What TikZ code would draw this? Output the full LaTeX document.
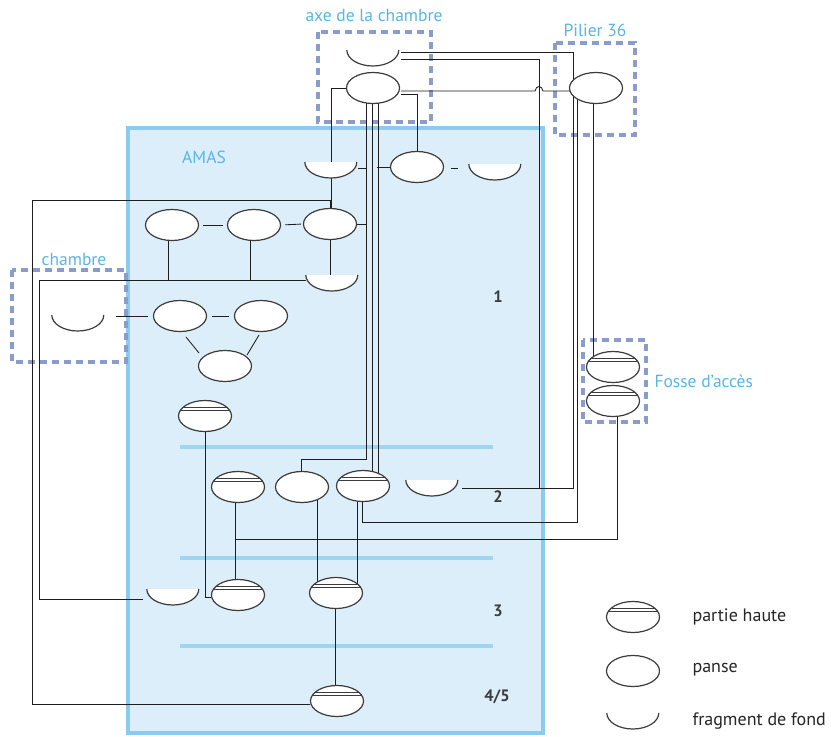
\documentclass[tikz,border=0pt]{standalone}
\usepackage{fontspec}
\setmainfont{PT Sans}
\usetikzlibrary{calc,shapes.geometric}
\pgfdeclarelayer{back}
\pgfdeclarelayer{wires}
\pgfsetlayers{back,wires,main}
\definecolor{amasfill}{RGB}{220,238,249}
\definecolor{amasline}{RGB}{140,203,238}
\definecolor{sepline}{RGB}{160,213,242}
\definecolor{labblue}{RGB}{88,182,228}
\definecolor{dashbox}{RGB}{138,156,203}
\definecolor{outl}{RGB}{60,60,60}
\definecolor{wire}{RGB}{30,30,30}
\definecolor{numgrey}{RGB}{60,60,60}
\begin{document}
\begin{tikzpicture}[x=1pt,y=-1pt,
  panse/.style={ellipse, draw=outl, line width=1.2pt, fill=white, minimum width=53pt, minimum height=31pt, inner sep=0pt},
  haute/.style={panse, path picture={
     \draw[outl, line width=0.9pt] ([yshift=8.5pt]path picture bounding box.west) -- ([yshift=8.5pt]path picture bounding box.east);
     \draw[outl, line width=0.9pt] ([yshift=5.3pt]path picture bounding box.west) -- ([yshift=5.3pt]path picture bounding box.east);}},
  fond/.style={rectangle, minimum width=52pt, minimum height=16pt, inner sep=0pt, anchor=north},
  wirel/.style={draw=wire, line width=0.85pt},
  dbox/.style={draw=dashbox, line width=3.5pt, dash pattern=on 7pt off 5pt},
  blab/.style={text=labblue, font=\fontsize{17.5}{20}\selectfont},
  lab/.style={text=black!85, font=\fontsize{18}{21}\selectfont, anchor=west},
  num/.style={text=numgrey, font=\bfseries\fontsize{16.5}{19}\selectfont}
]
\useasboundingbox (0,0) rectangle (831,737);

\begin{pgfonlayer}{back}
  \fill[white] (0,0) rectangle (831,737);
  \path[draw=amasline, fill=amasfill, line width=4pt] (128,128) rectangle (543,733);
  \foreach \yy in {447,558,646}
    \draw[sepline, line width=4pt] (180,\yy) -- (493,\yy);
  \draw[dbox] (318,32) rectangle (431,122);
  \draw[dbox] (555,43) rectangle (635,135);
  \draw[dbox] (12,270) rectangle (126,362);
  \draw[dbox] (583,340) rectangle (646,422);
\end{pgfonlayer}

% labels
\node[blab] (laxe) at (374,15) {axe de la chambre};
\node[blab] (lpil) at (595,30) {Pilier 36};
\node[blab] (lamas) at (204,157) {AMAS};
\node[blab] (lch) at (74,259) {chambre};
\node[blab, anchor=west] (lfos) at (651,381) {Fosse d'accès};
\node[num] (n1) at (498,297) {1};
\node[num] (n2) at (498,497) {2};
\node[num] (n3) at (498,611) {3};
\node[num] (n45) at (497,697) {4/5};

% nodes
\node[fond] (Faxe) at (373,50) {};
\node[panse] (Paxe) at (373,88) {};
\node[panse] (Ppil) at (596,88) {};
\node[fond] (Fa) at (331,162) {};
\node[panse] (Pb) at (417,167) {};
\node[fond] (Fc) at (495,164) {};
\node[panse] (P1a) at (172,225) {};
\node[panse] (P1b) at (254,225) {};
\node[panse] (P1c) at (330,224) {};
\node[fond] (F1) at (332,275) {};
\node[fond] (Fch) at (78,315) {};
\node[panse] (Pch1) at (180,316) {};
\node[panse] (Pch2) at (261,316) {};
\node[panse] (Pch3) at (225,366) {};
\node[haute] (PH1) at (205,416) {};
\node[haute] (PH2a) at (238,487) {};
\node[panse] (P2) at (302,487) {};
\node[haute] (PH2b) at (363,486) {};
\node[fond] (F2) at (432,480) {};
\node[haute] (FA1) at (613,367) {};
\node[haute] (FA2) at (613,401) {};
\node[fond] (F3) at (173,589) {};
\node[haute] (PH3a) at (238,595) {};
\node[haute] (PH3b) at (336,593) {};
\node[haute] (PH45) at (337,701) {};

% legend
\node[haute] (Lph) at (633,617) {};
\node[panse] (Lpa) at (633,671) {};
\node[fond] (Lfond) at (633,713) {};
\node[lab] (tph) at (689,617) {partie haute};
\node[lab] (tpa) at (689,670) {panse};
\node[lab] (tfo) at (689,721) {fragment de fond};

\foreach \f in {Faxe,Fa,Fc,F1,Fch,F2,F3,Lfond}
  \path[draw=outl, line width=1.2pt, fill=white] (\f.north west) arc[start angle=180, end angle=360, x radius=26pt, y radius=16pt];

% junction points on connectors
\coordinate (j539) at (539,488);
\coordinate (j366) at (366,168);
\coordinate (j235) at (235,539);

\begin{pgfonlayer}{wires}
  % from the chamber axis
  \draw[wirel] ($(Faxe.north east)+(2,2)$) -| ($(Ppil)+(-23,0)$);
  \draw[wirel] ($(Faxe.north east)+(2,9)$) -| (j539);
  \draw[wirel] (Paxe.west) -| (Fa.north);
  \draw[wirel] ($(Paxe.east)+(1,3)$) -- (535,91) .. controls (536,85) and (542,85) .. (543,91) -- ($(Ppil.west)+(1,3)$);
  \draw[wirel] ($(Paxe.east)+(1,6)$) -| (Pb.north);
  \draw[wirel] ($(Paxe)+(-7,0)$) |- ($(P2)+(-1,-28)$) -- ($(P2)+(-1,0)$);
  \draw[wirel] ($(Paxe)+(-1,0)$) -- ($(PH2b)+(9,0)$);
  \draw[wirel] ($(Paxe)+(5,0)$) -- ($(PH2b)+(15,0)$);
  % AMAS level 1
  \draw[wirel] ($(Fa.north east)+(1,6)$) -- (j366);
  \draw[wirel] (P1c.east) -- (P1c.east -| j366);
  \draw[wirel] (Pb.west) -- ++(-13,0);
  \draw[wirel] ($(Pb.east)+(7,1)$) -- ($(Fc.north west)+(-11,4)$);
  \draw[wirel] (Fa.south) -- (Fa.south |- P1c.north);
  \draw[wirel, shorten <=4pt, shorten >=4pt] (P1a.east) -- (P1b.west);
  \draw[wirel, shorten <=4pt, shorten >=2pt] (P1b.east) -- (P1c.west);
  \draw[wirel] ($(P1a)+(-4,0)$) -- ++(0,55);
  \draw[wirel] ($(P1b)+(-4,0)$) -- ++(0,55);
  \draw[wirel] (P1c.south) -- (P1c.south |- F1.north);
  \draw[wirel] (P1c.north) |- (32,200) |- ($(PH45.west)+(0,3)$);
  \draw[wirel] ($(F1.north west)+(0,5)$) -| (39,599) -- ($(F3.north west)+(-4,10)$);
  % chambre
  \draw[wirel, shorten <=12pt, shorten >=5pt] ($(Fch.north east)+(0,1)$) -- (Pch1.west);
  \draw[wirel, shorten <=5pt, shorten >=5pt] (Pch1.east) -- (Pch2.west);
  \draw[wirel] ($(Pch1)+(6,21)$) -- ($(Pch3)+(-26,-13)$);
  \draw[wirel] ($(Pch2)+(-2,19)$) -- ($(Pch3)+(22,-11)$);
  % levels 2 to 4/5
  \draw[wirel] (PH1.south) |- ($(PH3a.west)+(0,2)$);
  \draw[wirel] ($(PH2a)+(-3,0)$) -- ($(PH3a)+(-3,0)$);
  \draw[wirel] ($(FA2)+(4,0)$) |- (j235);
  \draw[wirel] ($(P2)+(15,0)$) -- ($(PH3b)+(-19,0)$);
  \draw[wirel] ($(PH2b)+(-6,0)$) -- ($(PH3b)+(21,0)$);
  \draw[wirel] ($(PH3b)+(-1,0)$) -- ($(PH45)+(-2,0)$);
  % pilier 36
  \draw[wirel] ($(Ppil)+(-23,0)$) |- ($(F2.north east)+(4,8)$);
  \draw[wirel] ($(Ppil)+(-19,0)$) |- ($(PH2b)+(-1,36)$) -- ($(PH2b)+(-1,0)$);
  \draw[wirel] ($(Ppil)+(-3,0)$) -- ($(FA1)+(-20,0)$);
\end{pgfonlayer}
\end{tikzpicture}
\end{document}
